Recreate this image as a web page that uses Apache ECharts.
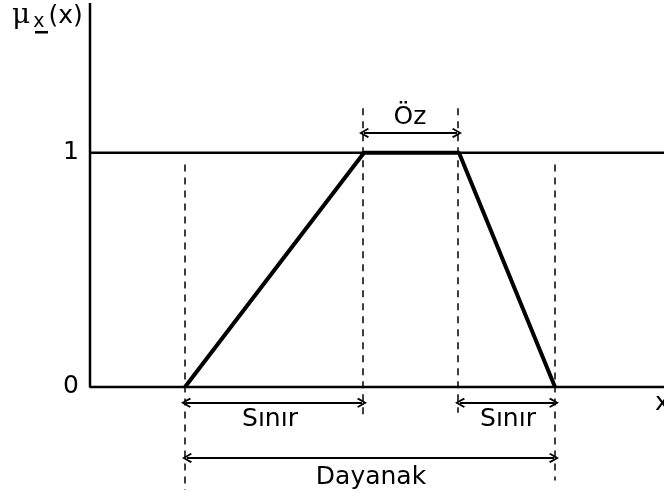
<!DOCTYPE html>
<html>
<head>
<meta charset="utf-8" />
<style>
  html, body { margin: 0; padding: 0; background: #fff; }
  #main { width: 664px; height: 495px; }
</style>
</head>
<body>
<div id="main"></div>
<script src="https://cdn.jsdelivr.net/npm/echarts@6/dist/echarts.min.js"></script>
<script>
// trapezoid membership function (x in tens of px units, y = membership)
var trapX = [9.5, 27.4, 36.9, 46.5];
var trapY = [0, 1, 1, 0];

var xMax = 57.4;
var yTop = 1.64;
var yTickLabels = ['0', '1'];

// dashed guide lines: [x, yFrom, yTo]
var guides = [
  [9.5, 0.95, -0.44],
  [27.3, 1.19, -0.14],
  [36.8, 1.19, -0.11],
  [46.5, 0.95, -0.40]
];

// dimension arrows: [xFrom, xTo, y]
var arrows = [
  [27.4, 36.7, 1.085],
  [9.6, 27.2, -0.068],
  [37.0, 46.4, -0.068],
  [9.7, 46.4, -0.303]
];

// labels: [text, x, y]
var labels = [
  ['Öz', 32.0, 1.15],
  ['Sınır', 18.0, -0.138],
  ['Sınır', 41.8, -0.138],
  ['Dayanak', 28.1, -0.385]
];

var font = 'DejaVu Sans';
var chevron = 'path://M5,0 L10,8 L8.6,9.2 L5,3.2 L1.4,9.2 L0,8 Z';

var chart = echarts.init(document.getElementById('main'));

var series = [];

// axes drawn as lines
series.push({
  type: 'line', silent: true, symbol: 'none', clip: false,
  data: [[0, yTop], [0, 0], [xMax, 0]],
  lineStyle: { color: '#000', width: 2.5 }
});
series.push({
  type: 'line', silent: true, symbol: 'none', clip: false,
  data: [[0, 1], [xMax, 1]],
  lineStyle: { color: '#000', width: 2.5 }
});

// membership function
series.push({
  type: 'line', silent: true, symbol: 'none', clip: false,
  data: trapX.map(function (x, i) { return [x, trapY[i]]; }),
  lineStyle: { color: '#000', width: 4 }
});

// dashed guides
guides.forEach(function (g) {
  series.push({
    type: 'line', silent: true, symbol: 'none', clip: false,
    data: [[g[0], g[1]], [g[0], g[2]]],
    lineStyle: { color: '#000', width: 1.5, type: [7, 6] }
  });
});

// arrows
series.push({
  type: 'line', silent: true, symbol: 'none', data: [],
  markLine: {
    silent: true,
    symbol: [chevron, chevron],
    symbolSize: [10, 10],
    label: { show: false },
    lineStyle: { color: '#000', width: 2, type: 'solid' },
    data: arrows.map(function (a) {
      return [{ coord: [a[0], a[2]] }, { coord: [a[1], a[2]] }];
    })
  }
});

// text labels
series.push({
  type: 'scatter', silent: true, symbolSize: 0, clip: false,
  itemStyle: { opacity: 1 },
  data: labels.map(function (l) { return { value: [l[1], l[2]], name: l[0] }; }),
  label: {
    show: true, position: 'inside', opacity: 1,
    formatter: function (p) { return p.name; },
    color: '#000', fontFamily: font, fontSize: 25
  }
});

// x axis name
series.push({
  type: 'scatter', silent: true, symbolSize: 0, clip: false,
  itemStyle: { opacity: 1 },
  data: [{ value: [56.5, -0.07], name: 'x' }],
  label: {
    show: true, position: 'right', distance: 0, opacity: 1,
    formatter: 'x', color: '#000', fontFamily: font, fontSize: 25
  }
});

var option = {
  animation: false,
  grid: { left: 90, right: 0, top: 3, bottom: 14.4 },
  xAxis: {
    type: 'value', min: 0, max: xMax,
    axisLine: { show: false }, axisTick: { show: false },
    axisLabel: { show: false }, splitLine: { show: false }
  },
  yAxis: {
    type: 'value', min: -0.4, max: yTop, interval: 0.2,
    axisLine: { show: false }, axisTick: { show: false },
    splitLine: { show: false },
    axisLabel: {
      showMaxLabel: false,
      margin: 11,
      color: '#000', fontFamily: font, fontSize: 25,
      formatter: function (v) {
        var r = Math.round(v * 10) / 10;
        if (r === 0) return yTickLabels[0];
        if (r === 1) return yTickLabels[1];
        return '';
      }
    }
  },
  graphic: [
    {
      type: 'text', left: 12, top: 2,
      style: {
        text: '{m|μ}{s|x}{p|(x)}',
        rich: {
          m: { fontFamily: 'DejaVu Serif', fontSize: 28, fill: '#000' },
          s: { fontFamily: font, fontSize: 19, fill: '#000', padding: [12, 4, 0, 3] },
          p: { fontFamily: font, fontSize: 25, fill: '#000' }
        }
      }
    },
    {
      type: 'rect', left: 35, top: 31,
      shape: { width: 13, height: 2.5 },
      style: { fill: '#000' }
    }
  ],
  series: series
};

chart.setOption(option);
</script>
</body>
</html>
